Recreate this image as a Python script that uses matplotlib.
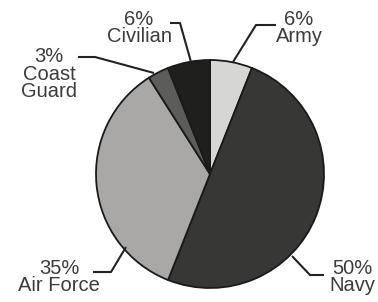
import matplotlib
matplotlib.use('Agg')
import matplotlib.pyplot as plt

labels = ['Army', 'Navy', 'Air Force', 'Coast\nGuard', 'Civilian']
shares = [6, 50, 35, 3, 6]
colors = ['#d6d6d4', '#373735', '#a9a8a6', '#5c5c5a', '#1f1f1e']

# leader lines (image pixel coords, y down) and label anchors
leaders = [
    [(233, 62), (256, 25), (276, 25)],
    [(292, 256), (310, 275), (324, 275)],
    [(126, 247), (111, 272), (93, 272)],
    [(154, 73), (95, 57), (78, 57)],
    [(191, 62), (180, 23), (170, 23)],
]
text_pos = [(299, 28), (352, 277), (59, 277), (49, 74), (139, 28)]

W, H = 378, 302
fig = plt.figure(figsize=(W / 100, H / 100), dpi=100)
ax = fig.add_axes([0, 0, 1, 1])

ax.pie(shares, colors=colors, startangle=90, counterclock=False,
       center=(210, H - 174), radius=114, frame=True,
       wedgeprops=dict(edgecolor='#1a1a1a', linewidth=1.3))
ax.set_xlim(0, W)
ax.set_ylim(0, H)
ax.set_aspect('equal')
ax.axis('off')

for lab, val, pts, (tx, ty) in zip(labels, shares, leaders, text_pos):
    xs = [p[0] for p in pts]
    ys = [H - p[1] for p in pts]
    ax.plot(xs, ys, color='#222222', lw=1.5, solid_capstyle='butt')
    ax.text(tx, H - ty, f'{val}%\n{lab}', ha='center', va='center',
            fontsize=14.5, family='Liberation Sans', color='#3c3c3c',
            linespacing=0.92)

fig.savefig('out.png', dpi=100, facecolor='white')
